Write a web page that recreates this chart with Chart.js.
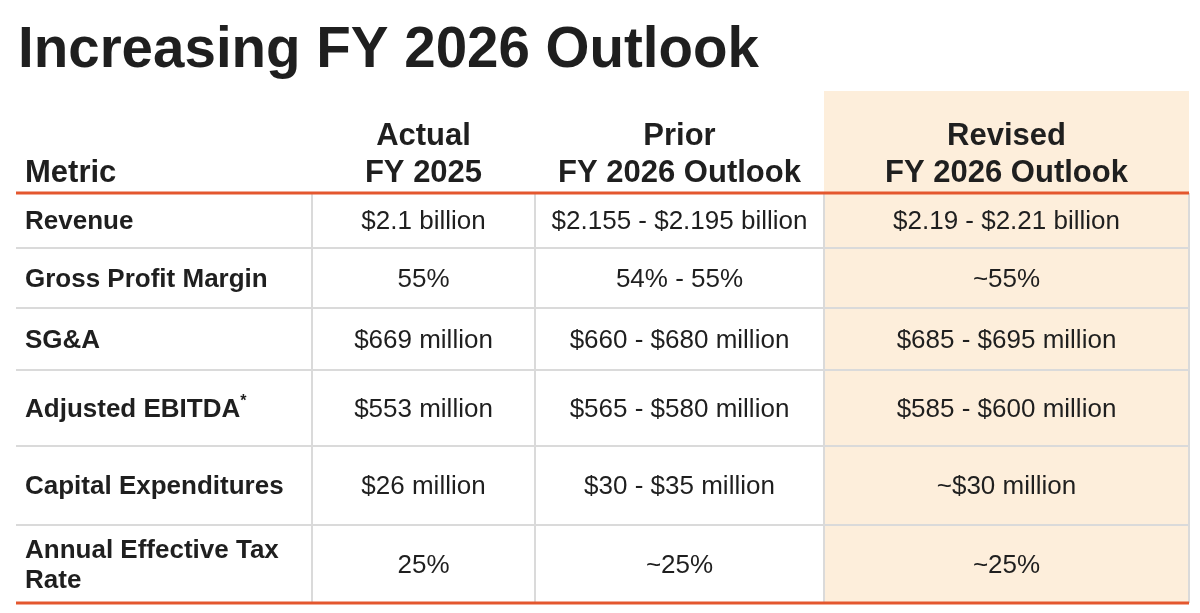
<!DOCTYPE html>
<html lang="en">
<head>
  <meta charset="UTF-8">
  <title>Increasing FY 2026 Outlook</title>
  <script src="https://cdn.jsdelivr.net/npm/chart.js"></script>
  <style>
    html, body { margin: 0; padding: 0; background: #fff; }
    canvas { display: block; }
  </style>
</head>
<body>
  <canvas id="outlookTable" width="1200" height="613"></canvas>

  <script>
    const title = 'Increasing FY 2026 Outlook';
    const headers = [['Metric'], ['Actual', 'FY 2025'], ['Prior', 'FY 2026 Outlook'], ['Revised', 'FY 2026 Outlook']];
    const metrics = ['Revenue', 'Gross Profit Margin', 'SG&A', 'Adjusted EBITDA*', 'Capital Expenditures', 'Annual Effective Tax Rate'];
    const actualFY2025 = ['$2.1 billion', '55%', '$669 million', '$553 million', '$26 million', '25%'];
    const priorFY2026 = ['$2.155 - $2.195 billion', '54% - 55%', '$660 - $680 million', '$565 - $580 million', '$30 - $35 million', '~25%'];
    const revisedFY2026 = ['$2.19 - $2.21 billion', '~55%', '$685 - $695 million', '$585 - $600 million', '~$30 million', '~25%'];

    // layout, in pixels
    const colWidths = [296, 223, 289, 365];
    const headerHeight = 102;
    const rowHeights = [55, 60, 62, 76, 79, 78];
    const highlightCol = 3;

    const textColor = '#1f1f1f';
    const orange = '#e4572e';
    const gridGray = '#dadada';
    const highlightFill = '#fdeedb';
    const FONT = 'Arial, "Liberation Sans", Helvetica, sans-serif';

    const columns = [metrics, actualFY2025, priorFY2026, revisedFY2026];
    const tableWidth = colWidths.reduce((a, b) => a + b, 0);
    const tableHeight = headerHeight + rowHeights.reduce((a, b) => a + b, 0);

    function wrap(ctx, text, maxWidth) {
      const words = text.split(' ');
      const lines = [];
      let line = '';
      words.forEach(w => {
        const test = line ? line + ' ' + w : w;
        if (line && ctx.measureText(test).width > maxWidth) {
          lines.push(line);
          line = w;
        } else {
          line = test;
        }
      });
      lines.push(line);
      return lines;
    }

    const tablePlugin = {
      id: 'outlookTable',
      afterDraw(chart) {
        const { ctx, scales: { x, y } } = chart;
        const X = v => x.getPixelForValue(v);
        const Y = v => y.getPixelForValue(v);

        const colEdges = [0];
        colWidths.forEach(w => colEdges.push(colEdges[colEdges.length - 1] + w));
        const rowEdges = [0, headerHeight];
        rowHeights.forEach(h => rowEdges.push(rowEdges[rowEdges.length - 1] + h));

        ctx.save();

        // title
        ctx.fillStyle = textColor;
        ctx.font = 'bold 56.5px ' + FONT;
        ctx.textAlign = 'left';
        ctx.textBaseline = 'alphabetic';
        ctx.fillText(title, 18, 67);

        // highlighted column
        ctx.fillStyle = highlightFill;
        ctx.fillRect(X(colEdges[highlightCol]), Y(0),
          X(colEdges[highlightCol + 1]) - X(colEdges[highlightCol]), Y(tableHeight) - Y(0));

        // grid lines
        ctx.strokeStyle = gridGray;
        ctx.lineWidth = 2;
        for (let r = 2; r < rowEdges.length - 1; r++) {
          ctx.beginPath();
          ctx.moveTo(X(0), Y(rowEdges[r]));
          ctx.lineTo(X(tableWidth), Y(rowEdges[r]));
          ctx.stroke();
        }
        for (let c = 1; c < colEdges.length; c++) {
          ctx.beginPath();
          ctx.moveTo(X(colEdges[c]), Y(headerHeight));
          ctx.lineTo(X(colEdges[c]), Y(tableHeight));
          ctx.stroke();
        }

        // orange rules
        ctx.strokeStyle = orange;
        ctx.lineWidth = 3;
        [headerHeight, tableHeight].forEach(v => {
          ctx.beginPath();
          ctx.moveTo(X(0), Y(v));
          ctx.lineTo(X(tableWidth), Y(v));
          ctx.stroke();
        });

        // header
        ctx.fillStyle = textColor;
        ctx.font = 'bold 31px ' + FONT;
        ctx.textBaseline = 'alphabetic';
        headers.forEach((lines, c) => {
          const left = c === 0;
          ctx.textAlign = left ? 'left' : 'center';
          const tx = left ? X(colEdges[c]) + 9 : (X(colEdges[c]) + X(colEdges[c + 1])) / 2;
          lines.forEach((line, i) => {
            const ty = Y(headerHeight) - 11 - (lines.length - 1 - i) * 37;
            ctx.fillText(line, tx, ty);
          });
        });

        // body
        ctx.textBaseline = 'middle';
        columns.forEach((values, c) => {
          const left = c === 0;
          ctx.font = (left ? 'bold ' : '') + '26px ' + FONT;
          ctx.textAlign = left ? 'left' : 'center';
          const x0 = X(colEdges[c]);
          const x1 = X(colEdges[c + 1]);
          const tx = left ? x0 + 9 : (x0 + x1) / 2;
          values.forEach((val, r) => {
            const cy = (Y(rowEdges[r + 1]) + Y(rowEdges[r + 2])) / 2 + 1.5;
            let text = val;
            let sup = '';
            if (left && text.endsWith('*')) {
              text = text.slice(0, -1);
              sup = '*';
            }
            const lines = left ? wrap(ctx, text, x1 - x0 - 20) : [text];
            lines.forEach((line, i) => {
              const ly = cy + (i - (lines.length - 1) / 2) * 30;
              ctx.fillText(line, tx, ly);
              if (sup && i === lines.length - 1) {
                const w = ctx.measureText(line).width;
                ctx.save();
                ctx.font = 'bold 16px ' + FONT;
                ctx.fillText(sup, tx + w, ly - 8);
                ctx.restore();
              }
            });
          });
        });

        ctx.restore();
      }
    };

    new Chart(document.getElementById('outlookTable'), {
      type: 'scatter',
      data: { datasets: [] },
      options: {
        responsive: false,
        animation: false,
        layout: { padding: { left: 16, right: 11, top: 91, bottom: 10 } },
        plugins: { legend: { display: false }, tooltip: { enabled: false } },
        scales: {
          x: { type: 'linear', min: 0, max: tableWidth, offset: false, display: false },
          y: { type: 'linear', min: 0, max: tableHeight, reverse: true, offset: false, display: false }
        }
      },
      plugins: [tablePlugin]
    });
  </script>
</body>
</html>
